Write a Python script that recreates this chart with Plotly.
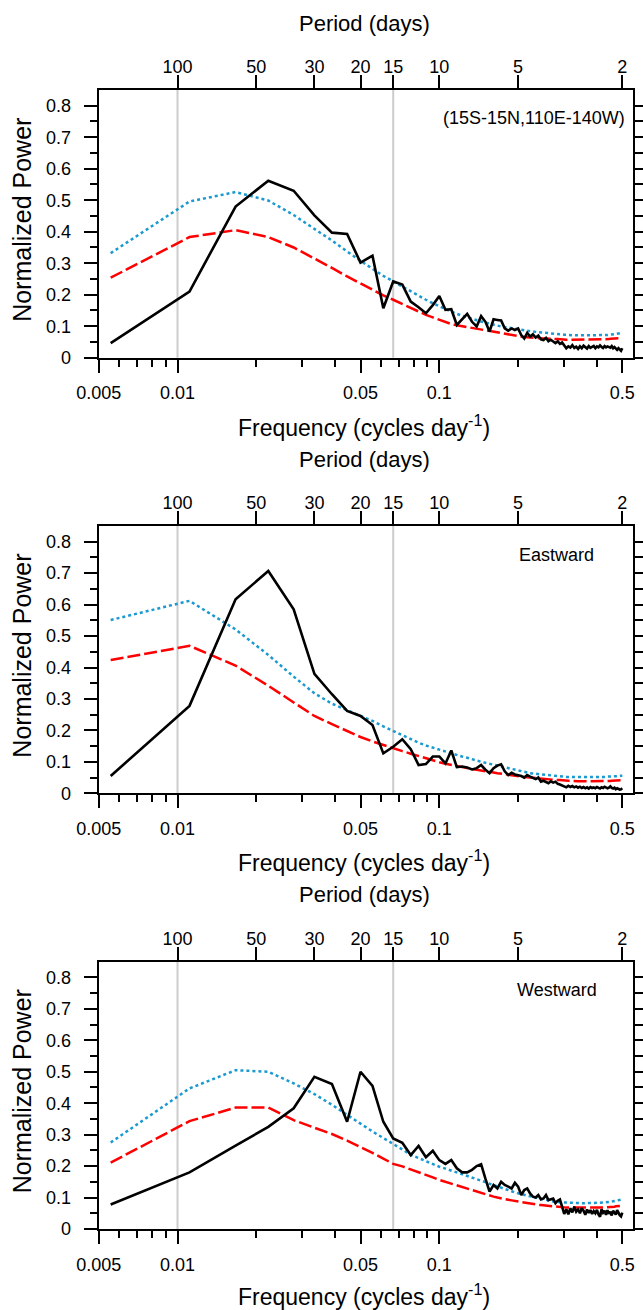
import plotly.graph_objects as go

FIG_W, FIG_H = 643, 1310

# ---------------- data ----------------
n_days = 180
freq = [k / n_days for k in range(1, 91)]  # cycles per day, k = 1..90

freq_ticks = [0.005, 0.01, 0.05, 0.1, 0.5]
freq_labels = ["0.005", "0.01", "0.05", "0.1", "0.5"]
freq_minor = [0.006, 0.007, 0.008, 0.009, 0.02, 0.03, 0.04,
              0.06, 0.07, 0.08, 0.09, 0.2, 0.3, 0.4]
period_ticks = [100, 50, 30, 20, 15, 10, 5, 2]
marked_periods = [100, 15]
y_ticks = [0, 0.1, 0.2, 0.3, 0.4, 0.5, 0.6, 0.7, 0.8]
y_labels = ["0", "0.1", "0.2", "0.3", "0.4", "0.5", "0.6", "0.7", "0.8"]
y_minor = [0.05, 0.15, 0.25, 0.35, 0.45, 0.55, 0.65, 0.75]

panel_labels = ["(15S-15N,110E-140W)", "Eastward", "Westward"]

# Panel 1: all
p1_power = [.046, .210, .480, .562, .530, .452, .397, .393, .302, .324,
            .157, .242, .232, .178, .160, .141, .167, .196, .152, .154,
            .104, .122, .139, .114, .099, .132, .114, .083, .122, .120,
            .118, .093, .086, .093, .088, .093, .072, .061, .079, .067,
            .074, .064, .070, .058, .056, .063, .052, .057, .050, .046,
            .052, .044, .048, .040, .030, .036, .032, .040, .031, .035,
            .028, .036, .030, .038, .032, .029, .037, .031, .034, .037,
            .030, .036, .033, .039, .034, .031, .037, .033, .036, .034,
            .032, .037, .030, .034, .028, .025, .030, .024, .022, .030]
p1_red = [.254, .383, .405, .383, .350, .316, .285, .258, .236, .215,
          .198, .184, .170, .158, .146, .136, .128, .120, .113, .107,
          .103, .100, .097, .094, .092, .089, .086, .083, .081, .079,
          .077, .075, .073, .071, .070, .068, .067, .066, .065, .064,
          .064, .063, .062, .062, .061, .061, .060, .060, .059, .059,
          .059, .058, .058, .058, .057, .057, .057, .057, .057, .057,
          .057, .057, .057, .057, .057, .057, .057, .057, .057, .057,
          .057, .058, .058, .058, .058, .058, .059, .059, .059, .059,
          .060, .060, .060, .061, .061, .061, .062, .062, .063, .063]
p1_sig = [.332, .496, .526, .499, .453, .410, .372, .337, .307, .282,
          .260, .242, .225, .210, .196, .184, .173, .163, .154, .146,
          .139, .133, .128, .123, .119, .115, .111, .108, .105, .102,
          .099, .097, .095, .093, .091, .089, .088, .086, .085, .084,
          .083, .082, .081, .080, .079, .078, .077, .076, .076, .075,
          .075, .074, .074, .073, .073, .072, .072, .072, .071, .071,
          .071, .070, .070, .070, .070, .070, .070, .070, .070, .070,
          .070, .070, .071, .071, .071, .071, .072, .072, .072, .073,
          .073, .074, .074, .075, .075, .076, .077, .077, .078, .079]

# Panel 2: eastward
p2_power = [.055, .278, .617, .707, .585, .380, .315, .262, .246, .217,
            .127, .148, .172, .140, .090, .093, .117, .117, .095, .136,
            .083, .085, .082, .076, .080, .090, .075, .064, .080, .088,
            .092, .070, .058, .065, .060, .058, .055, .050, .058, .053,
            .048, .045, .050, .037, .040, .035, .032, .038, .034, .037,
            .030, .028, .025, .022, .019, .024, .020, .023, .019, .022,
            .018, .021, .017, .020, .016, .019, .015, .020, .017, .019,
            .016, .020, .018, .015, .019, .017, .021, .019, .016, .018,
            .022, .017, .015, .018, .013, .016, .014, .012, .013, .016]
p2_red = [.424, .469, .406, .342, .289, .246, .220, .198, .179, .165,
          .153, .143, .134, .126, .118, .111, .105, .099, .094, .090,
          .086, .083, .080, .077, .075, .072, .070, .068, .066, .064,
          .062, .061, .059, .058, .056, .054, .053, .052, .051, .050,
          .049, .048, .047, .046, .046, .045, .044, .044, .043, .043,
          .042, .042, .041, .041, .040, .040, .040, .039, .039, .039,
          .038, .038, .038, .038, .038, .037, .037, .037, .037, .037,
          .037, .037, .038, .038, .038, .038, .038, .039, .039, .039,
          .039, .040, .040, .040, .041, .041, .041, .042, .042, .042]
p2_sig = [.551, .612, .521, .440, .371, .318, .285, .265, .248, .230,
          .213, .198, .185, .172, .161, .152, .145, .138, .132, .127,
          .122, .117, .113, .108, .104, .100, .097, .094, .091, .088,
          .085, .082, .080, .077, .075, .071, .069, .067, .066, .064,
          .063, .062, .061, .060, .059, .058, .057, .056, .055, .055,
          .054, .054, .053, .053, .052, .052, .052, .051, .051, .051,
          .051, .051, .050, .050, .050, .050, .050, .050, .050, .050,
          .051, .051, .051, .051, .052, .052, .052, .052, .053, .053,
          .053, .053, .054, .054, .054, .055, .055, .055, .056, .056]

# Panel 3: westward
p3_power = [.078, .180, .265, .325, .384, .484, .461, .341, .500, .455,
            .341, .288, .274, .235, .264, .228, .249, .219, .207, .219,
            .193, .180, .180, .188, .200, .206, .160, .119, .140, .129,
            .150, .140, .135, .129, .147, .135, .108, .124, .129, .113,
            .103, .100, .108, .094, .097, .108, .092, .094, .097, .082,
            .090, .094, .071, .048, .063, .047, .066, .053, .071, .055,
            .062, .050, .066, .058, .045, .062, .051, .060, .048, .057,
            .050, .061, .046, .039, .063, .052, .058, .045, .060, .048,
            .055, .043, .058, .050, .046, .060, .049, .044, .040, .052]
p3_red = [.211, .343, .386, .386, .346, .322, .302, .281, .261, .242,
          .224, .207, .199, .190, .181, .173, .164, .156, .150, .144,
          .138, .133, .128, .122, .118, .114, .110, .106, .103, .100,
          .097, .095, .093, .091, .089, .087, .085, .084, .082, .081,
          .080, .078, .077, .076, .075, .074, .073, .072, .071, .071,
          .070, .070, .069, .069, .068, .068, .068, .067, .067, .067,
          .067, .066, .066, .066, .066, .066, .066, .066, .066, .066,
          .067, .067, .067, .067, .068, .068, .068, .069, .069, .069,
          .070, .070, .071, .071, .072, .072, .073, .073, .074, .074]
p3_sig = [.275, .447, .505, .500, .463, .429, .395, .362, .335, .310,
          .290, .272, .253, .236, .225, .215, .206, .198, .192, .186,
          .180, .174, .169, .163, .158, .153, .149, .144, .140, .136,
          .132, .128, .124, .120, .116, .113, .111, .108, .106, .104,
          .102, .100, .098, .096, .094, .092, .090, .088, .087, .086,
          .086, .085, .085, .084, .084, .084, .083, .083, .083, .083,
          .082, .082, .082, .082, .082, .082, .082, .082, .082, .082,
          .083, .083, .083, .084, .084, .084, .085, .085, .086, .086,
          .087, .087, .088, .089, .089, .090, .091, .092, .093, .094]

power_series = [p1_power, p2_power, p3_power]
red_series = [p1_red, p2_red, p3_red]
sig_series = [p1_sig, p2_sig, p3_sig]

# ---------------- layout geometry (pixels) ----------------
PLOT_L, PLOT_R = 98.7, 632.5
PX_PER_DECADE = 261.8
LOG_LEFT = -2.30103
XRANGE = [LOG_LEFT, LOG_LEFT + (PLOT_R - PLOT_L) / PX_PER_DECADE]
XDOM = [PLOT_L / FIG_W, PLOT_R / FIG_W]
panel_px = [(90.0, 357.7), (526.0, 793.3), (961.7, 1229.0)]
label_px = [(534, 118), (556, 555), (556.5, 990)]

FONT = "Liberation Sans, Arial, Helvetica, sans-serif"
TICK_FONT = dict(family=FONT, size=18, color="black")


def px_x(x):
    return x / FIG_W


def px_y(y):
    return 1 - y / FIG_H


fig = go.Figure()
layout = dict(
    width=FIG_W, height=FIG_H,
    margin=dict(l=0, r=0, t=0, b=0, pad=0, autoexpand=False),
    paper_bgcolor="white", plot_bgcolor="white",
    showlegend=False,
    font=dict(family=FONT, color="black"),
)
annotations = []
shapes = []


def sfx(n):
    return "" if n == 1 else str(n)


for i in range(3):
    nb, nt = 2 * i + 1, 2 * i + 2
    xb, xt = "x" + sfx(nb), "x" + sfx(nt)
    yl, yr = "y" + sfx(nb), "y" + sfx(nt)
    top, bottom = panel_px[i]
    dom = [px_y(bottom), px_y(top)]

    layout["xaxis" + sfx(nb)] = dict(
        type="log", domain=XDOM, range=XRANGE, anchor=yl, side="bottom",
        automargin=False,
        tickmode="array", tickvals=freq_ticks, ticktext=freq_labels,
        ticks="outside", ticklen=13, tickwidth=1.5, tickcolor="black",
        showline=True, linewidth=2, linecolor="black",
        showgrid=False, zeroline=False, tickfont=TICK_FONT,
        ticklabelstandoff=5,
        minor=dict(tickvals=freq_minor, ticks="outside", ticklen=7,
                   tickwidth=1.5, tickcolor="black", showgrid=False),
    )
    layout["xaxis" + sfx(nt)] = dict(
        type="log", range=XRANGE, anchor=yl, overlaying=xb, side="top",
        automargin=False,
        tickmode="array", tickvals=[1 / p for p in period_ticks],
        ticktext=[str(p) for p in period_ticks],
        ticks="outside", ticklen=13, tickwidth=1.5, tickcolor="black",
        showline=True, linewidth=2, linecolor="black",
        showgrid=False, zeroline=False, tickfont=TICK_FONT,
        ticklabelstandoff=-5,
    )
    layout["yaxis" + sfx(nb)] = dict(
        domain=dom, range=[0, 0.85], anchor=xb, side="left",
        automargin=False,
        tickmode="array", tickvals=y_ticks, ticktext=y_labels,
        ticks="outside", ticklen=13, tickwidth=1.5, tickcolor="black",
        showline=True, linewidth=2, linecolor="black",
        showgrid=False, zeroline=False, tickfont=TICK_FONT,
        ticklabelstandoff=9,
        minor=dict(tickvals=y_minor, ticks="outside", ticklen=7,
                   tickwidth=1.5, tickcolor="black", showgrid=False),
    )
    layout["yaxis" + sfx(nt)] = dict(
        range=[0, 0.85], anchor=xb, overlaying=yl, side="right",
        automargin=False,
        tickmode="array", tickvals=y_ticks + y_minor,
        ticks="outside", ticklen=10, tickwidth=1.5, tickcolor="black",
        showticklabels=False,
        showline=True, linewidth=2, linecolor="black",
        showgrid=False, zeroline=False,
    )

    # reference period lines
    for p in marked_periods:
        shapes.append(dict(type="line", xref=xb, yref=yl + " domain",
                           x0=1 / p, x1=1 / p, y0=0, y1=1, layer="below",
                           line=dict(color="#cccccc", width=2)))

    fig.add_trace(go.Scatter(x=freq, y=sig_series[i], mode="lines",
                             xaxis=xb, yaxis=yl, hoverinfo="skip",
                             line=dict(color="#1a9ad0", width=2.5, dash="3px,3px")))
    fig.add_trace(go.Scatter(x=freq, y=red_series[i], mode="lines",
                             xaxis=xb, yaxis=yl, hoverinfo="skip",
                             line=dict(color="#ff0000", width=2.5, dash="13px,4px")))
    fig.add_trace(go.Scatter(x=freq, y=power_series[i], mode="lines",
                             xaxis=xb, yaxis=yl, hoverinfo="skip",
                             line=dict(color="black", width=2.6)))
    # dummy trace so the top / right axes are drawn
    fig.add_trace(go.Scatter(x=[None], y=[None], xaxis=xt, yaxis=yr,
                             mode="lines", hoverinfo="skip"))

    # titles
    annotations.append(dict(text="Period (days)", x=px_x(365), y=px_y(top - 67),
                            xref="paper", yref="paper", showarrow=False,
                            xanchor="center", yanchor="middle",
                            font=dict(family=FONT, size=22, color="black")))
    freq_y = min(bottom + 68, FIG_H - 15)
    annotations.append(dict(text="Frequency (cycles day<sup>-1</sup>)",
                            x=px_x(364), y=px_y(freq_y),
                            xref="paper", yref="paper", showarrow=False,
                            xanchor="center", yanchor="middle",
                            font=dict(family=FONT, size=23, color="black")))
    annotations.append(dict(text="Normalized Power", x=px_x(22),
                            y=px_y((top + bottom) / 2 - 4),
                            xref="paper", yref="paper", showarrow=False,
                            textangle=-90, xanchor="center", yanchor="middle",
                            font=dict(family=FONT, size=25, color="black")))
    lx, ly = label_px[i]
    annotations.append(dict(text=panel_labels[i], x=px_x(lx), y=px_y(ly),
                            xref="paper", yref="paper", showarrow=False,
                            xanchor="center", yanchor="middle",
                            font=dict(family=FONT, size=18, color="black")))

layout["annotations"] = annotations
layout["shapes"] = shapes
fig.update_layout(**layout)
fig.write_html("out.html")
